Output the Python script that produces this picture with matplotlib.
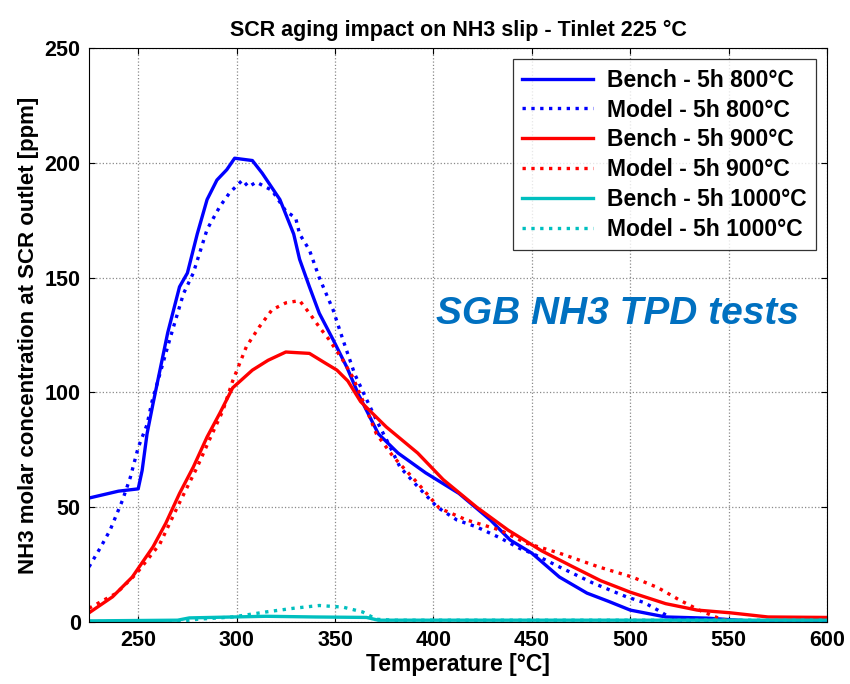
import matplotlib
matplotlib.use("Agg")
import matplotlib.pyplot as plt

plt.rcParams.update({
    "font.family": "Liberation Sans", "font.weight": "bold",
    "axes.labelweight": "bold", "axes.titleweight": "bold",
})

# Bench - 5h 800°C
b800_t = [225, 240, 250, 252, 254.5, 257.5, 265, 271, 275, 280, 285, 290, 295, 299, 308,
          313, 322, 329, 332, 337, 342, 349, 356, 362, 372, 382, 396, 413, 429, 439, 450,
          464, 478, 489, 500, 518, 539, 560, 600]
b800_y = [54, 57, 58, 66, 82, 95, 126, 146, 152, 169, 184, 192.5, 197, 202, 201,
          195.5, 184, 169, 158, 146, 134.5, 123, 111, 99, 82, 73.6, 65, 56, 44.4, 35.7, 30,
          19.6, 12.6, 9, 5.2, 2.2, 1.7, 0.5, 0.5]

# Model - 5h 800°C
m800_t = [225, 231, 235.7, 242, 246, 250, 254.5, 257, 266, 273, 278, 285, 291.5, 296.5,
          303, 306, 310, 318, 325, 330, 332, 337, 342, 349, 354, 360, 366, 371, 377, 383,
          392, 402, 412, 422, 434, 444, 450, 464, 481, 498, 507, 514, 522, 530, 600]
m800_y = [24, 32.7, 40, 53, 63, 76, 86, 96, 123, 143, 152, 171, 181, 187,
          192.5, 189.5, 191.6, 188, 179, 176, 169, 162, 150, 136, 123, 108, 97, 88, 78, 67.5,
          59, 50, 44.4, 41.4, 36.6, 32, 30, 24, 17, 11, 8.5, 5.2, 1, 0.3, 0.3]

# Bench - 5h 900°C
b900_t = [225, 237, 247, 257.5, 264, 271, 278, 285, 291.5, 298, 308, 316, 325, 337, 345,
          351, 356.5, 363, 376, 392, 405, 422, 438, 455, 471, 485, 500, 518, 534, 551,
          570, 600]
b900_y = [4, 11, 19.6, 32.7, 43, 56, 67.5, 80.6, 91, 102, 109.7, 114, 117.6, 117, 112.8,
          109.7, 105, 96, 85, 73.6, 62, 50, 40, 31, 24, 18, 13, 8, 5.2, 4,
          2.2, 2]

# Model - 5h 900°C
m900_t = [225, 239, 249, 261, 271, 280, 286, 293, 298, 305, 311.5, 318, 325, 332, 337,
          342, 347, 354, 359, 364, 371, 379.6, 392, 403, 417, 434, 447, 464, 484, 501,
          514, 525, 535, 544, 550]
m900_y = [6, 12.6, 21, 34, 52, 67.5, 79, 92, 105, 120, 128.5, 136, 139, 140, 134.5,
          128.5, 123, 114, 106.7, 96.7, 82, 72, 60.5, 49.6, 44.4, 40, 34.4, 30, 24, 19.6,
          15, 9.6, 5.2, 2, 0.5]

# Bench - 5h 1000°C
b1000_t = [225, 270, 276, 298, 315, 340, 366, 372, 450, 600]
b1000_y = [0.5, 0.8, 1.8, 2.2, 2.5, 2.2, 2, 0.8, 0.8, 0.8]

# Model - 5h 1000°C
m1000_t = [225, 270, 280, 298, 315, 329, 342, 354, 364, 371, 380, 600]
m1000_y = [0.2, 0.3, 1.2, 2.2, 4.4, 6, 7.2, 6.5, 4.4, 1.2, 0.8, 0.8]

BLUE, RED, CYAN = "#0000ff", "#ff0000", "#00bfbf"
series = [
    (b800_t, b800_y, BLUE, "-", "Bench - 5h 800°C"),
    (m800_t, m800_y, BLUE, ":", "Model - 5h 800°C"),
    (b900_t, b900_y, RED, "-", "Bench - 5h 900°C"),
    (m900_t, m900_y, RED, ":", "Model - 5h 900°C"),
    (b1000_t, b1000_y, CYAN, "-", "Bench - 5h 1000°C"),
    (m1000_t, m1000_y, CYAN, ":", "Model - 5h 1000°C"),
]

fig = plt.figure(figsize=(8.5, 6.84), dpi=100)
ax = fig.add_axes([0.1047, 0.0906, 0.8683, 0.8392])

for t, y, c, ls, lab in series:
    ax.plot(t, y, color=c, ls=ls, lw=2.4, label=lab,
            dash_capstyle="butt" if ls == ":" else "projecting")

ax.set_xlim(225, 600)
ax.set_ylim(0, 250)
ax.set_xticks(range(250, 601, 50))
ax.set_yticks(range(0, 251, 50))
ax.tick_params(direction="in", top=True, right=True, labelsize=15.5, length=4, width=0.8, pad=6)
for lbl in ax.get_xticklabels() + ax.get_yticklabels():
    lbl.set_fontweight("bold")
ax.grid(True, ls=":", color="#8a8a8a", lw=0.9)
for s in ax.spines.values():
    s.set_linewidth(0.8)

ax.set_xlabel("Temperature [°C]", fontsize=16.5, labelpad=1)
ax.set_ylabel("NH3 molar concentration at SCR outlet [ppm]", fontsize=16, labelpad=4)
ax.set_title("SCR aging impact on NH3 slip - Tinlet 225 °C", fontsize=15.5, pad=9)

ax.text(0.716, 0.537, "SGB NH3 TPD tests", transform=ax.transAxes, color="#0070c0",
        fontsize=28, fontstyle="italic", fontweight="bold", ha="center", va="center")

leg = ax.legend(loc="upper right", fontsize=16.5, frameon=True, fancybox=False,
                edgecolor="black", borderaxespad=0.5, handlelength=3.1,
                labelspacing=0.3, borderpad=0.4, handletextpad=0.6)
leg.get_frame().set_linewidth(0.9)
for txt in leg.get_texts():
    txt.set_fontweight("bold")

fig.savefig("out.png", dpi=100, facecolor="white")
